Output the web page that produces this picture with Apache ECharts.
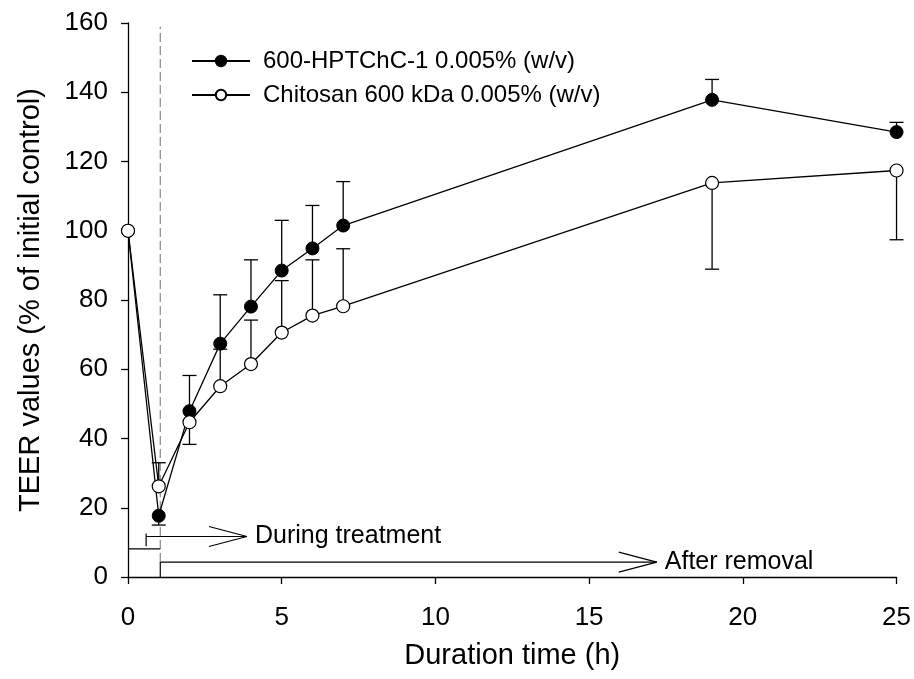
<!DOCTYPE html>
<html>
<head>
<meta charset="utf-8">
<script src="https://cdn.jsdelivr.net/npm/echarts@6/dist/echarts.min.js"></script>
<style>
html,body{margin:0;padding:0;background:#fff;}
#chart{width:914px;height:679px;}
</style>
</head>
<body>
<div id="chart"></div>
<script>
// ---- data ----
const times = [0, 1, 2, 3, 4, 5, 6, 7, 19, 25];
const hptchcValues = [100, 17.7, 47.9, 67.4, 78.1, 88.5, 94.9, 101.5, 137.8, 128.5];
const hptchcErrEnd = [null, 15.0, 58.2, 81.5, 91.6, 103.0, 107.3, 114.2, 143.7, 131.3];
const chitosanValues = [100, 26.2, 44.7, 55.1, 61.5, 70.6, 75.5, 78.2, 113.8, 117.4];
const chitosanErrEnd = [null, 33.0, 38.3, 65.8, 74.2, 85.6, 91.6, 94.8, 88.9, 97.4];
const seriesNames = ['600-HPTChC-1 0.005% (w/v)', 'Chitosan 600 kDa 0.005% (w/v)'];
const xTicks = [0, 5, 10, 15, 20, 25];
const yTicks = [0, 20, 40, 60, 80, 100, 120, 140, 160];
const dashedLine = [[1.05, 4.3], [1.05, 159]];
const treatmentBar = [[0, 8.1], [1.05, 8.1]];
const arrowStartX = [0.59, 1.05];
const arrowEndX = [3.87, 17.2];
const arrowY = [11.7, 4.3];
const arrowTickLow = [8.9, 0];
const arrowLabels = ['During treatment', 'After removal'];

const FONT = 'Liberation Sans, Arial, sans-serif';
const chart = echarts.init(document.getElementById('chart'), null, {renderer: 'canvas'});

function pairs(xs, ys) { return xs.map((x, i) => [x, ys[i]]); }
function errData(vals, ends) {
  const out = [];
  times.forEach((t, i) => { if (ends[i] !== null) out.push([t, vals[i], ends[i]]); });
  return out;
}
function errSeries(vals, ends) {
  return {
    type: 'custom', silent: true, z: 2,
    renderItem: function (params, api) {
      const x = api.value(0), v = api.value(1), e = api.value(2);
      const p0 = api.coord([x, v]), p1 = api.coord([x, e]);
      return {type: 'group', children: [
        {type: 'line', shape: {x1: p0[0], y1: p0[1], x2: p1[0], y2: p1[1]}, style: {stroke: '#000', lineWidth: 1.3}},
        {type: 'line', shape: {x1: p1[0] - 7, y1: p1[1], x2: p1[0] + 7, y2: p1[1]}, style: {stroke: '#000', lineWidth: 1.3}}
      ]};
    },
    data: errData(vals, ends)
  };
}
const arrowData = arrowLabels.map((l, i) => [arrowStartX[i], arrowEndX[i], arrowY[i], arrowTickLow[i], i]);

const option = {
  animation: false,
  backgroundColor: '#fff',
  grid: {left: 128, right: 17, top: 23, bottom: 102, containLabel: false},
  legend: {
    orient: 'vertical', left: 186, top: 44, itemWidth: 58, itemHeight: 13, itemGap: 10,
    textStyle: {fontFamily: FONT, fontSize: 24, color: '#000', padding: [0, 0, 0, 8]},
    data: seriesNames
  },
  xAxis: {
    type: 'value', min: 0, max: 25, interval: 5,
    name: 'Duration time (h)', nameLocation: 'middle', nameGap: 64,
    nameTextStyle: {fontFamily: FONT, fontSize: 29, color: '#000'},
    axisLine: {lineStyle: {color: '#000', width: 1.3}},
    axisTick: {show: true, inside: false, length: 7, lineStyle: {color: '#000', width: 1.3}},
    axisLabel: {fontFamily: FONT, fontSize: 26, color: '#000', margin: 28,
      formatter: v => xTicks.includes(v) ? String(v) : ''},
    splitLine: {show: false}
  },
  yAxis: {
    type: 'value', min: 0, max: 160, interval: 20,
    name: 'TEER values (% of initial control)', nameLocation: 'middle', nameGap: 83,
    nameTextStyle: {fontFamily: FONT, fontSize: 29, color: '#000'},
    axisLine: {show: true, lineStyle: {color: '#000', width: 1.3}},
    axisTick: {show: true, inside: false, length: 7, lineStyle: {color: '#000', width: 1.3}},
    axisLabel: {fontFamily: FONT, fontSize: 26, color: '#000', margin: 20,
      formatter: v => yTicks.includes(v) ? String(v) : ''},
    splitLine: {show: false}
  },
  series: [
    {
      type: 'line', silent: true, z: 1, symbol: 'none',
      lineStyle: {color: '#888', width: 1.2, type: [9, 4]},
      data: dashedLine
    },
    {
      type: 'line', silent: true, z: 1, symbol: 'none',
      lineStyle: {color: '#000', width: 1.2},
      data: treatmentBar
    },
    {
      type: 'custom', silent: true, z: 1,
      renderItem: function (params, api) {
        const x0 = api.value(0), x1 = api.value(1), y = api.value(2), yl = api.value(3), idx = api.value(4);
        const a = api.coord([x0, y]), b = api.coord([x1, y]), c = api.coord([x0, yl]);
        return {type: 'group', children: [
          {type: 'line', shape: {x1: c[0], y1: c[1], x2: a[0], y2: a[1] - (idx === 0 ? 3 : 0)}, style: {stroke: '#000', lineWidth: 1.2}},
          {type: 'line', shape: {x1: a[0], y1: a[1], x2: b[0], y2: b[1]}, style: {stroke: '#000', lineWidth: 1.2}},
          {type: 'line', shape: {x1: b[0] - 38, y1: b[1] - 10, x2: b[0], y2: b[1]}, style: {stroke: '#000', lineWidth: 1.2}},
          {type: 'line', shape: {x1: b[0] - 38, y1: b[1] + 10, x2: b[0], y2: b[1]}, style: {stroke: '#000', lineWidth: 1.2}},
          {type: 'text', x: b[0] + 8, y: b[1], style: {text: arrowLabels[idx], fill: '#000', font: '25px ' + FONT, textAlign: 'left', textVerticalAlign: 'middle'}}
        ]};
      },
      data: arrowData
    },
    errSeries(hptchcValues, hptchcErrEnd),
    errSeries(chitosanValues, chitosanErrEnd),
    {
      name: seriesNames[0], type: 'line', z: 3,
      symbol: 'circle', symbolSize: 13,
      lineStyle: {color: '#000', width: 1.3},
      itemStyle: {color: '#000', borderColor: '#000', borderWidth: 1},
      data: pairs(times, hptchcValues)
    },
    {
      name: seriesNames[1], type: 'line', z: 4,
      symbol: 'circle', symbolSize: 13,
      lineStyle: {color: '#000', width: 1.3},
      itemStyle: {color: '#fff', borderColor: '#000', borderWidth: 1.2},
      data: pairs(times, chitosanValues)
    }
  ]
};
chart.setOption(option);
</script>
</body>
</html>
